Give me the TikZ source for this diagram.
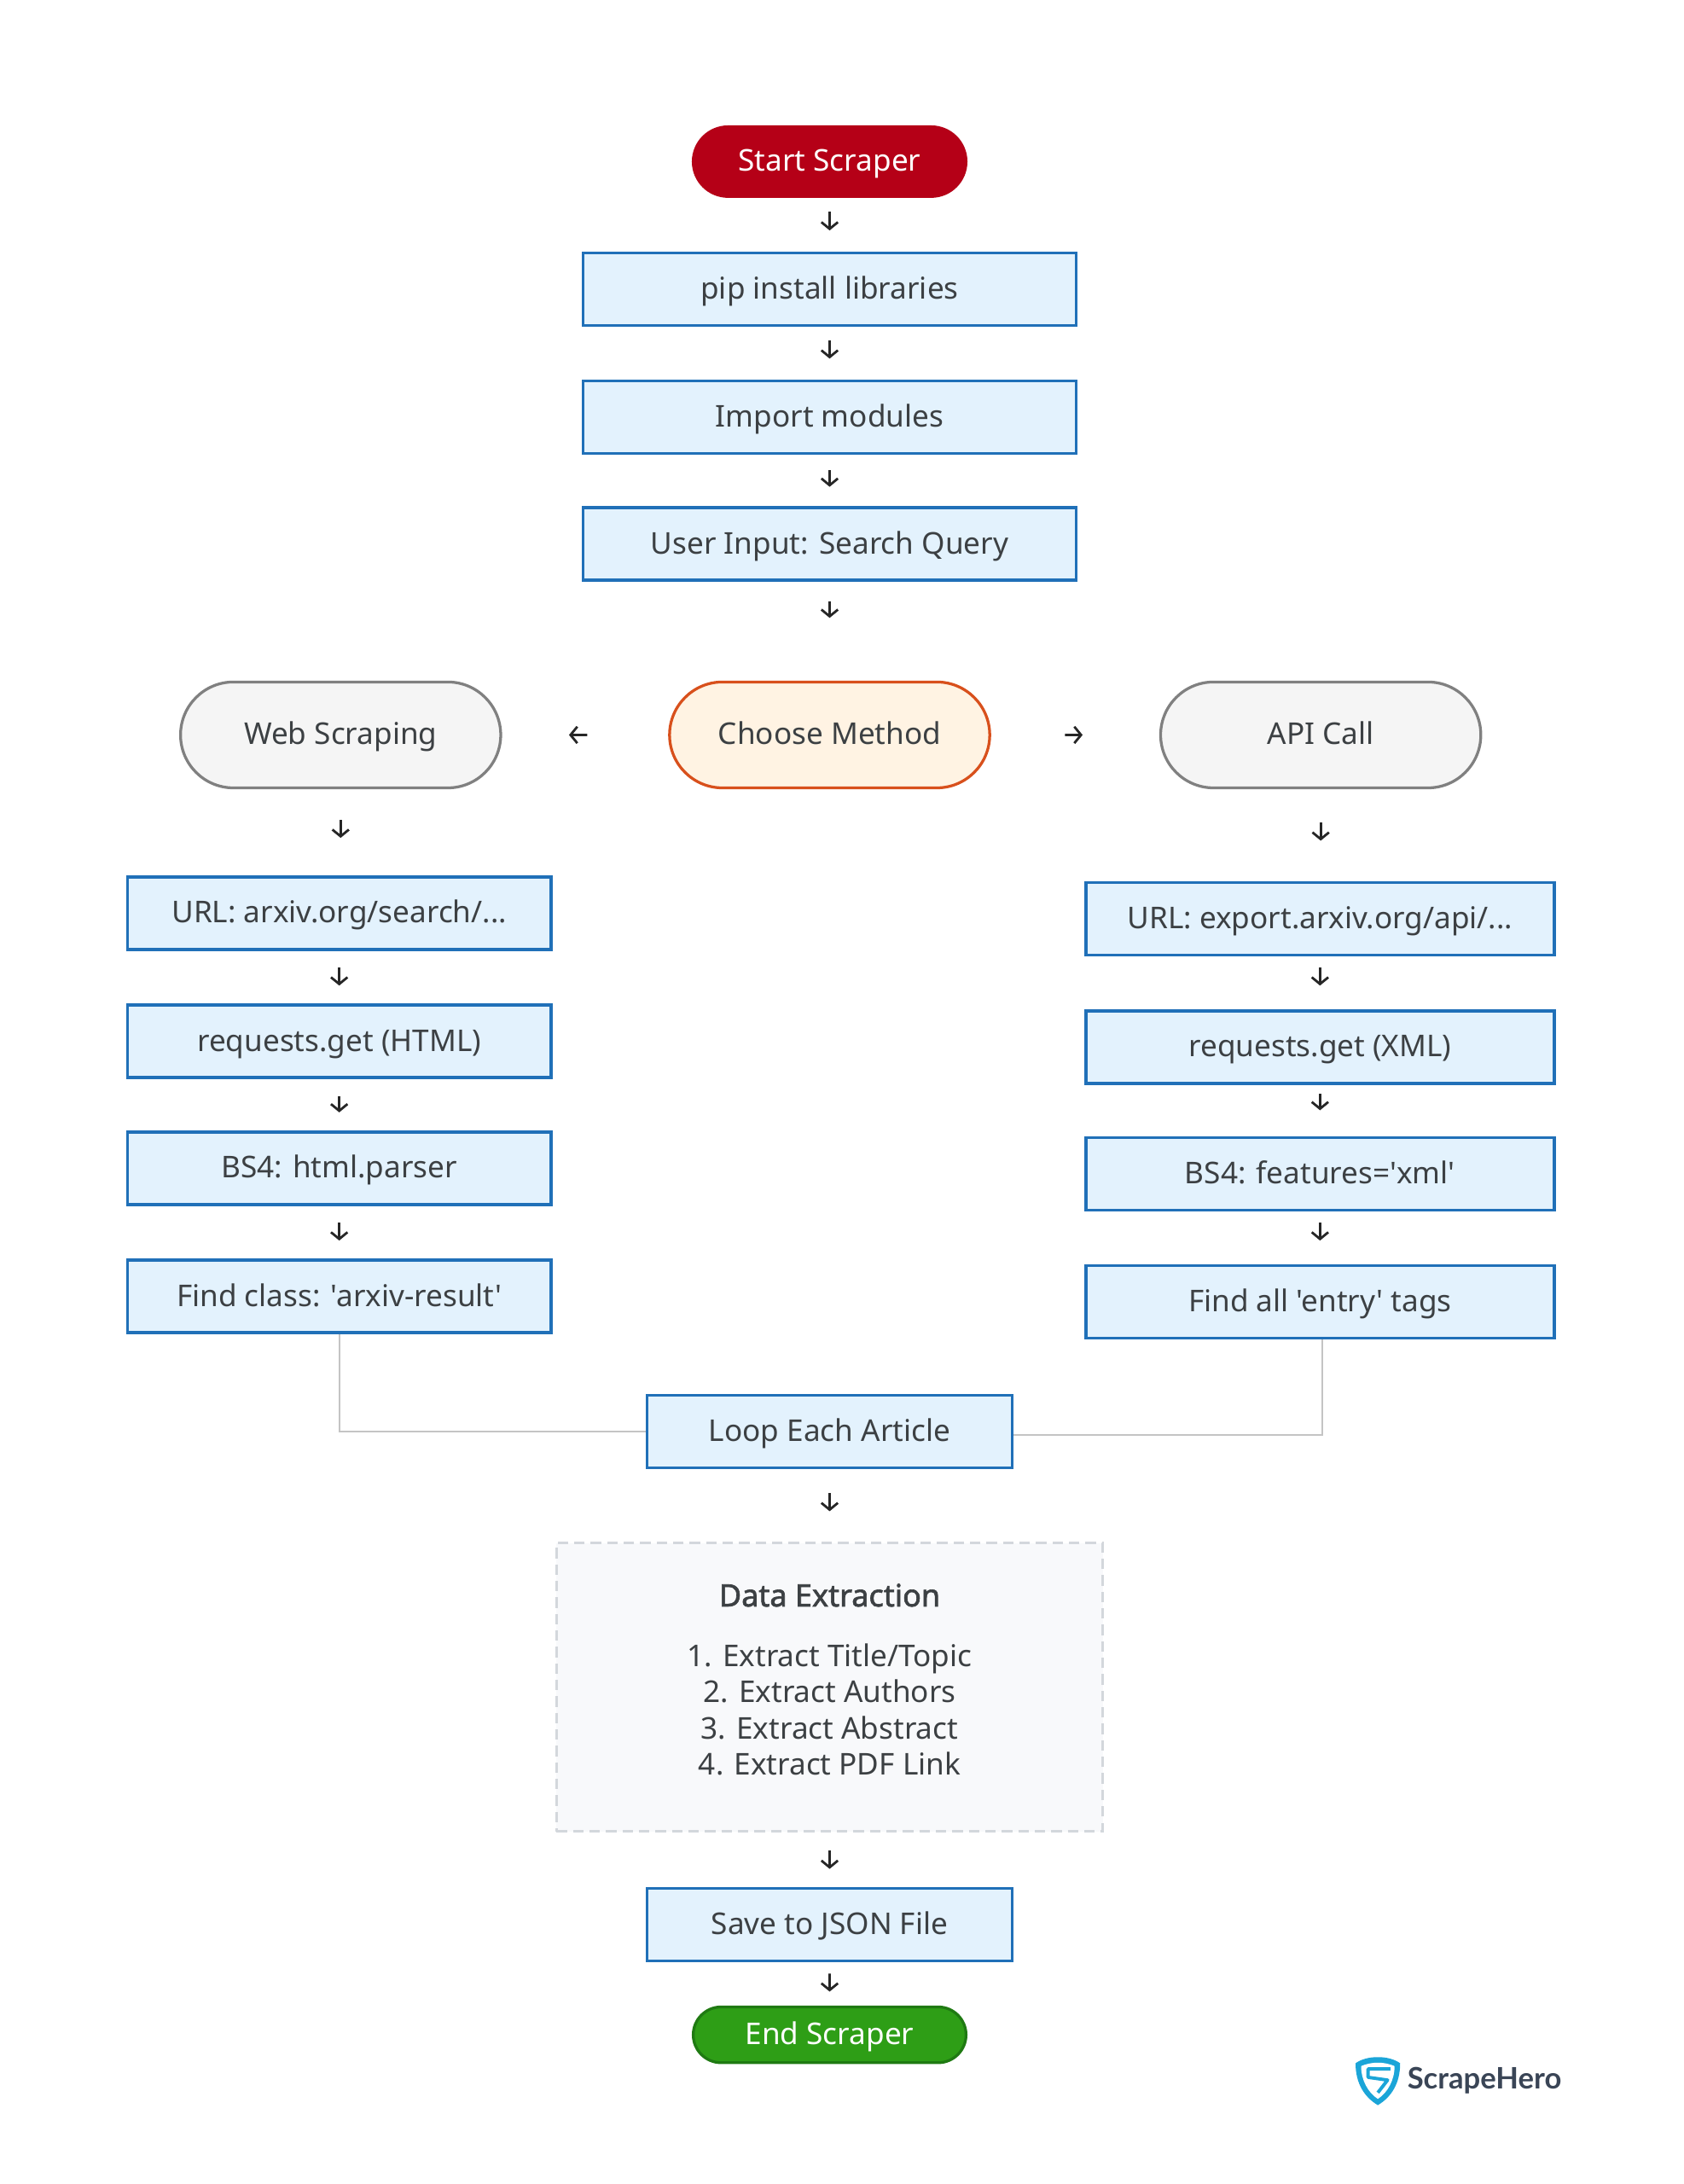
\documentclass[tikz,border=0pt]{standalone}
\usepackage{fontspec}
\setmainfont[Ligatures=TeXOff]{Noto Sans}
\newfontfamily\titlefont[FakeBold=1.8]{Noto Sans}
\newfontfamily\logofont{Lato}
\usetikzlibrary{arrows.meta,shapes.misc}
\definecolor{inktext}{HTML}{3C4043}
\definecolor{stepfill}{HTML}{E3F2FD}
\definecolor{stepline}{HTML}{2070B8}
\definecolor{startfill}{HTML}{B50017}
\definecolor{endfill}{HTML}{2E9E16}
\definecolor{endline}{HTML}{1F7A12}
\definecolor{pickfill}{HTML}{FFF3E3}
\definecolor{pickline}{HTML}{D8501C}
\definecolor{waylfill}{HTML}{F5F5F5}
\definecolor{waylline}{HTML}{808080}
\definecolor{datafill}{HTML}{F8F9FB}
\definecolor{dataline}{HTML}{D3D7DC}
\definecolor{linkline}{HTML}{C4C4C4}
\definecolor{logoblue}{HTML}{1BA5D8}
\definecolor{logotext}{HTML}{3A4556}
\newcommand{\px}{0.03266cm}

\begin{document}
\begin{tikzpicture}[x=0.03266cm,y=-0.03266cm,
	every node/.style={text=inktext,font=\fontsize{20}{24}\selectfont},
	stepbox/.style={rectangle,draw=stepline,fill=stepfill,line width=2.2*\px,minimum height=52*\px,text height=17pt,text depth=4pt},
	leftbox/.style={stepbox,minimum width=304*\px},
	rightbox/.style={stepbox,minimum width=336*\px},
	midbox/.style={stepbox,minimum width=354*\px},
	lowbox/.style={stepbox,minimum width=262*\px},
	wayout/.style={rounded rectangle,line width=2*\px,minimum width=237*\px,minimum height=76*\px,text height=17pt,text depth=4pt},
	go/.style={-{Straight Barb[length=4.5pt,width=11pt]},draw=black!85,line width=1.6pt},
	link/.style={draw=linkline,line width=1pt}]
	 \useasboundingbox (0,0) rectangle (1208.2,1567.6);

	 \node at (595.5,116) [wayout,fill=startfill,draw=startfill,minimum width=203*\px,minimum height=50*\px,text=white] (start) {Start Scraper};
	 \node at (595.5,207.5) [midbox] (pip) {pip install libraries};
	 \node at (595.5,299.5) [midbox] (imports) {Import modules};
	 \node at (595.5,390.5) [midbox] (query) {User Input: Search Query};

	 \node at (595.5,527.5) [wayout,fill=pickfill,draw=pickline] (choose) {Choose Method};
	 \node at (244.5,527.5) [wayout,fill=waylfill,draw=waylline] (web) {Web Scraping};
	 \node at (948,527.5) [wayout,fill=waylfill,draw=waylline] (api) {API Call};

	 \node at (243.5,655.5) [leftbox] (urlweb) {URL: arxiv.org/search/...};
	 \node at (243.5,747.5) [leftbox] (getweb) {requests.get (HTML)};
	 \node at (243.5,838.5) [leftbox] (bsweb) {BS4: html.parser};
	 \node at (243.5,930.5) [leftbox] (findweb) {Find class: 'arxiv-result'};

	 \node at (947.5,659.5) [rightbox] (urlapi) {URL: export.arxiv.org/api/...};
	 \node at (947.5,751.5) [rightbox] (getapi) {requests.get (XML)};
	 \node at (947.5,842.5) [rightbox] (bsapi) {BS4: features='xml'};
	 \node at (947.5,934.5) [rightbox] (findapi) {Find all 'entry' tags};

	 \node at (595.5,1027.5) [lowbox] (loop) {Loop Each Article};

	 \node at (595.5,1211) [rectangle,draw=dataline,fill=datafill,dash pattern=on 7pt off 4pt,line width=1.5pt,minimum width=392*\px,minimum height=207*\px] (data) {};
	 \node at (595.5,1145) [font=\titlefont\fontsize{20.5}{24}\selectfont] (datatitle) {Data Extraction};
	 \node at (595.5,1227) [align=center] (datalist) {1. Extract Title/Topic\\2. Extract Authors\\3. Extract Abstract\\4. Extract PDF Link};

	 \node at (595.5,1381.5) [lowbox] (save) {Save to JSON File};
	 \node at (595.5,1460.5) [wayout,fill=endfill,draw=endline,minimum width=203*\px,minimum height=40*\px,text=white] (finish) {End Scraper};

	 \draw[go,shorten <=10*\px,shorten >=15*\px] (start) -- (pip);
	 \draw[go,shorten <=10*\px,shorten >=15*\px] (pip) -- (imports);
	 \draw[go,shorten <=11*\px,shorten >=14*\px] (imports) -- (query);
	 \draw[go,shorten <=14*\px,shorten >=45*\px] (query) -- (choose);
	 \draw[go,shorten <=58*\px,shorten >=48*\px] (choose) -- (web);
	 \draw[go,shorten <=53*\px,shorten >=55*\px] (choose) -- (api);

	 \draw[go,shorten <=22*\px,shorten >=27*\px] (web.south) -- (web.south |- urlweb.north);
	 \draw[go,shorten <=12*\px,shorten >=13*\px] (urlweb) -- (getweb);
	 \draw[go,shorten <=12*\px,shorten >=13*\px] (getweb) -- (bsweb);
	 \draw[go,shorten <=12*\px,shorten >=13*\px] (bsweb) -- (findweb);

	 \draw[go,shorten <=24*\px,shorten >=29*\px] (api.south) -- (api.south |- urlapi.north);
	 \draw[go,shorten <=8*\px,shorten >=17*\px] (urlapi) -- (getapi);
	 \draw[go,shorten <=6.5*\px,shorten >=18.5*\px] (getapi) -- (bsapi);
	 \draw[go,shorten <=8*\px,shorten >=17*\px] (bsapi) -- (findapi);

	 \draw[link] (findweb.south) |- (loop.west);
	 \draw[link] ([xshift=1.5*\px]findapi.south) |- ([yshift=-2.5*\px]loop.east);

	 \draw[go,shorten <=17*\px,shorten >=22*\px] (loop) -- (data);
	 \draw[go,shorten <=13*\px,shorten >=13*\px] (data) -- (save);
	 \draw[go,shorten <=8*\px,shorten >=10*\px] (save) -- (finish);

	 % logo
	 \fill[logoblue] (989,1476.5) .. controls (978,1476.5) and (973,1481) .. (973,1481) .. controls (973,1495) and (979,1505) .. (989,1511) .. controls (999,1505) and (1005,1495) .. (1005,1481) .. controls (1005,1481) and (1000,1476.5) .. (989,1476.5) -- cycle;
	 \fill[white] (989,1480.5) .. controls (982,1480.5) and (977,1483) .. (977,1483) .. controls (977,1493) and (982,1502) .. (989,1506.5) .. controls (996,1502) and (1001,1493) .. (1001,1483) .. controls (1001,1483) and (996,1480.5) .. (989,1480.5) -- cycle;
	 \draw[logoblue,line width=2.4*\px,line join=round] (998,1485) -- (982,1485) -- (982,1491) -- (996,1493) -- (989,1502);
	 \node at (1010,1499) [anchor=base west,inner sep=0pt,text=logotext,font=\logofont\bfseries\fontsize{19.7}{22}\selectfont] (brand) {ScrapeHero};
\end{tikzpicture}
\end{document}
